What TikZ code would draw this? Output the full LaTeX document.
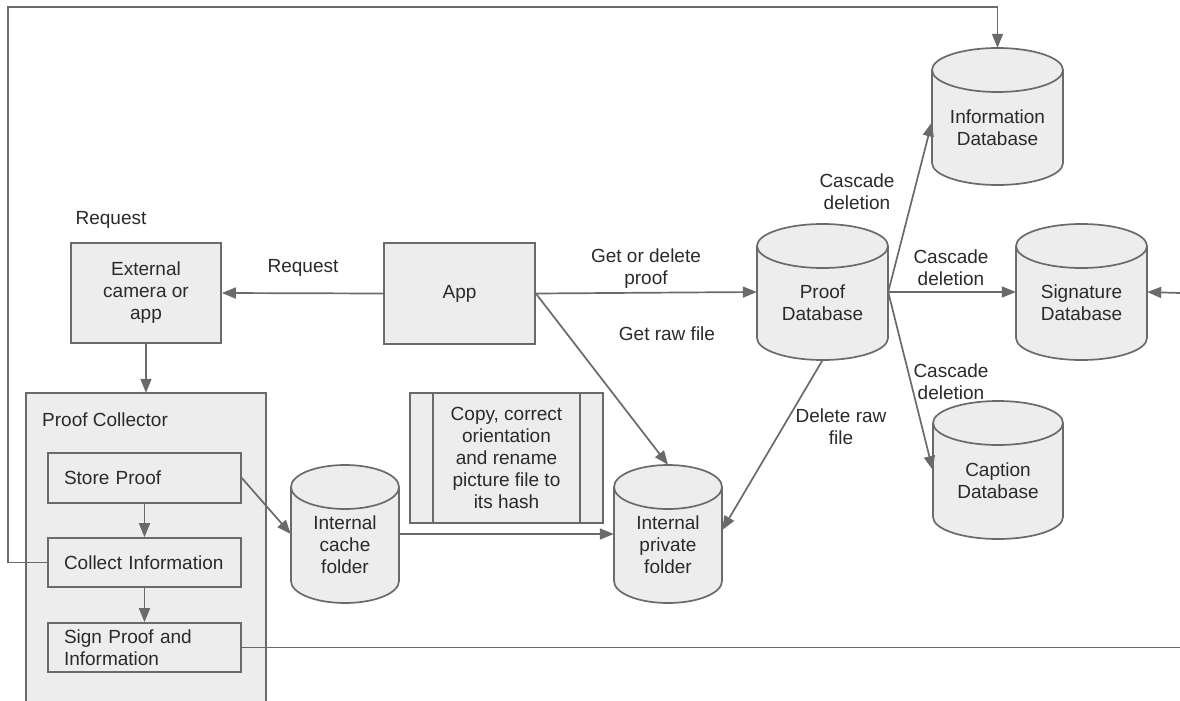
\documentclass[tikz,border=0pt]{standalone}
\usepackage{fontspec}
\setmainfont{Liberation Sans}
\usetikzlibrary{arrows.meta,calc}
\definecolor{edge}{HTML}{6A6A6A}
\definecolor{boxfill}{HTML}{EDEDED}
\definecolor{ink}{HTML}{2A2A2A}

\tikzset{
  every node/.style={font=\fontsize{19}{22}\selectfont, text=ink},
  box/.style={draw=edge, fill=boxfill, line width=1.7pt, inner sep=0pt, align=center},
  conn/.style={draw=edge, line width=1.7pt},
  arr/.style={conn, -{Triangle[length=14pt,width=11pt]}},
  lbl/.style={align=center, inner sep=0pt},
}

% database cylinder: name, centre x, top y, bottom y, half width, text
\newcommand\dbcyl[6]{%
  \path[fill=boxfill, draw=edge, line width=1.7pt]
    (#2-#5,-#3-22) -- (#2-#5,-#4+22)
    arc[start angle=180,end angle=360,x radius=#5pt,y radius=22pt]
    -- (#2+#5,-#3-22)
    arc[start angle=0,end angle=180,x radius=#5pt,y radius=22pt] -- cycle;
  \draw[edge, line width=1.7pt] (#2-#5,-#3-22)
    arc[start angle=180,end angle=360,x radius=#5pt,y radius=22pt];
  \node[inner sep=0pt, minimum width=2*#5, minimum height=#4-#3] (#1) at (#2,{-(#3+#4)/2}) {};
  \node[lbl] at (#2,{-(#3+22+#4)/2}) {#6};
}

\begin{document}
\begin{tikzpicture}[x=1pt,y=1pt]
\fill[white] (0,0) rectangle (1180,-701);
\useasboundingbox (0,0) rectangle (1180,-701);

% databases and folders
\dbcyl{infodb}{997.5}{48}{185}{65.5}{Information\\Database}
\dbcyl{proofdb}{822.5}{224}{360}{65.5}{Proof\\Database}
\dbcyl{sigdb}{1081.5}{224}{360}{65.5}{Signature\\Database}
\dbcyl{capdb}{998}{401}{539}{65}{Caption\\Database}
\dbcyl{cachedb}{345}{465}{603}{54}{Internal\\cache\\folder}
\dbcyl{privdb}{668}{465}{603}{54}{Internal\\private\\folder}

% boxes
\node[box, minimum width=150, minimum height=100] (ext) at (146,-293) {External\\camera or\\app};
\node[box, minimum width=151, minimum height=101] (app) at (459.5,-293.5) {App};
\node[box, minimum width=193, minimum height=130] (copy) at (506.5,-458) {Copy, correct\\orientation\\and rename\\picture file to\\its hash};
\draw[conn] ([xshift=24pt]copy.north west) -- ([xshift=24pt]copy.south west);
\draw[conn] ([xshift=-24pt]copy.north east) -- ([xshift=-24pt]copy.south east);

% proof collector container
\node[fill=boxfill, inner sep=0pt, minimum width=240, minimum height=308] (collector) at (146,-547) {};
\draw[conn] (collector.south west) -- (collector.north west) -- (collector.north east) -- (collector.south east);
\node[anchor=west, inner sep=0pt] at (42,-420) {Proof Collector};

\node[box, minimum width=193, minimum height=50, text width=161, align=left] (store) at (144.5,-478) {Store Proof};
\node[box, minimum width=193, minimum height=49, text width=161, align=left] (collect) at (144.5,-562.5) {Collect Information};
\node[box, minimum width=193, minimum height=49, text width=161, align=left] (sign) at (144.5,-647.5) {Sign Proof and\\Information};

% free ends at the picture's border
\coordinate (loopL) at (8,-562.5);
\coordinate (loopT) at (8,-7);
\coordinate (signEnd) at (1180,-647.5);
\coordinate (sigIn) at (1180,-293);

% connectors
\draw[arr] (app.west) -- (ext.east);
\draw[arr] (ext.south) -- (collector.north);
\draw[arr] (store.south) -- (collect.north);
\draw[arr] (collect.south) -- (sign.north);
\draw[arr] (store.east) -- (cachedb.west);
\draw[arr] (cachedb.east) -- (privdb.west);
\draw[arr] (app.east) -- (proofdb.west);
\draw[arr] (app.east) -- (privdb.north);
\draw[arr] (proofdb.south) -- ([yshift=4pt]privdb.east);
\draw[arr] (proofdb.east) -- ([yshift=-6pt]infodb.west);
\draw[arr] (proofdb.east) -- (sigdb.west);
\draw[arr] (proofdb.east) -- (capdb.west);
\draw[arr] (sigIn) -- (sigdb.east);
\draw[arr] (collect.west) -- (loopL) -- (loopT) -| (infodb.north);
\draw[conn] (sign.east) -- (signEnd);

% connector labels
\node[lbl] at (111,-220) {Request};
\node[lbl] at (303,-268) {Request};
\node[lbl] at (646,-269) {Get or delete\\proof};
\node[lbl] at (667,-334) {Get raw file};
\node[lbl] at (841,-427) {Delete raw\\file};
\node[lbl] at (857,-192) {Cascade\\deletion};
\node[lbl] at (951,-268) {Cascade\\deletion};
\node[lbl] at (951,-382) {Cascade\\deletion};
\end{tikzpicture}
\end{document}
